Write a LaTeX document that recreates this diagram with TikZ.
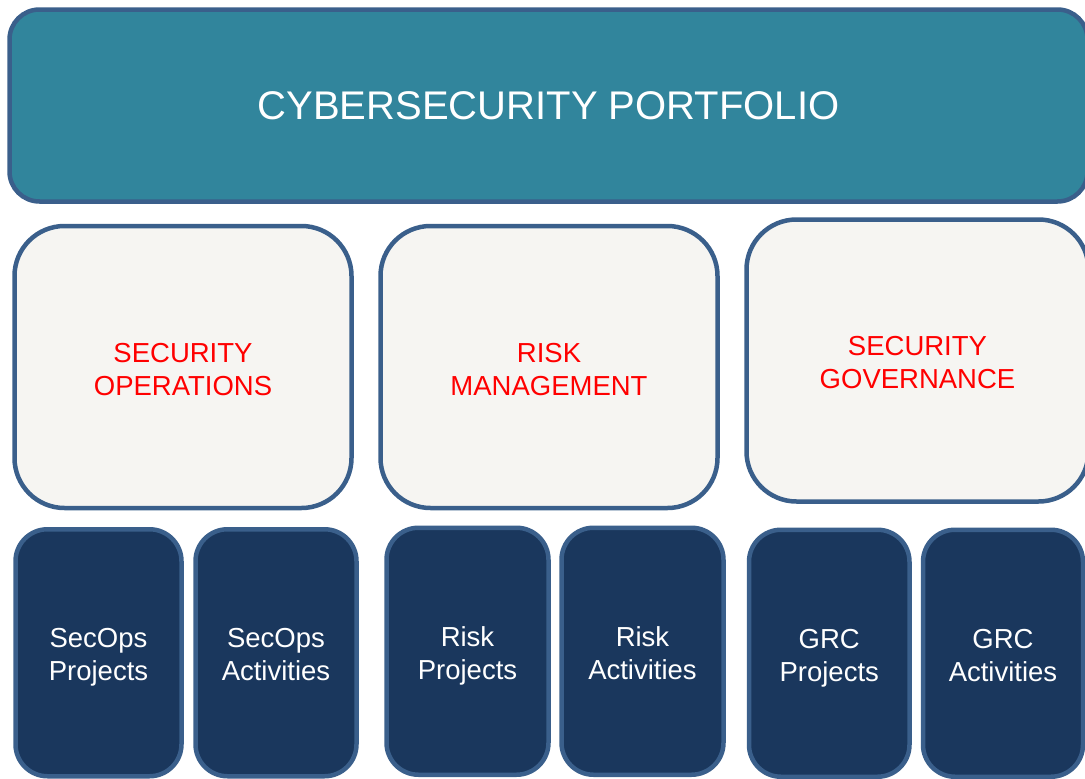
\documentclass[tikz,border=0pt]{standalone}
\usepackage{fontspec}
\setmainfont{Liberation Sans}
\usetikzlibrary{positioning}
\definecolor{edgeblue}{HTML}{3A5F8B}
\definecolor{tealfill}{HTML}{31859C}
\definecolor{paper}{HTML}{F6F5F2}
\definecolor{navy}{HTML}{1A375D}

\begin{document}
\begin{tikzpicture}[x=1pt,y=-1pt,
        box/.style={draw=edgeblue, line width=4.5pt, align=center, inner sep=0pt},
        portfolio/.style={box, fill=tealfill, text=white, rounded corners=30pt,
            minimum width=1078pt, minimum height=192pt, font=\fontsize{40}{48}\selectfont},
        twoline/.style={text height=61pt, text depth=5pt, font=\fontsize{27.5}{33}\selectfont},
        area/.style={box, twoline, fill=paper, text=red, rounded corners=50pt,
            minimum width=337pt, minimum height=282pt},
        work/.style={box, twoline, fill=navy, text=white, rounded corners=32pt,
            minimum height=247pt}]
            \useasboundingbox (0,0) rectangle (1085,779);
            \clip (0,0) rectangle (1085,779);
            \node[portfolio] (portfolio) at (548.5,105.5) {CYBERSECURITY PORTFOLIO};
            \node[area] (secops) at (183,367) {SECURITY\\OPERATIONS};
            \node[area] (risk) at (549,367) {RISK\\MANAGEMENT};
            \node[area, minimum width=342pt] (gov) at (917.5,360.5) {SECURITY\\GOVERNANCE};
            \foreach \name/\x/\y/\w/\txt in {secproj/98.5/652.75/166/{SecOps\\Projects},
                secact/276/652.75/161/{SecOps\\Activities},
                riskproj/467.5/651.25/162/{Risk\\Projects},
                riskact/642.5/651.25/162/{Risk\\Activities},
                grcproj/829.25/653.25/160.5/{GRC\\Projects},
                grcact/1003/653.25/160/{GRC\\Activities}}{
                \node[work, minimum width=\w pt] (\name) at (\x,\y) {\txt};
            }
        \end{tikzpicture}
\end{document}
